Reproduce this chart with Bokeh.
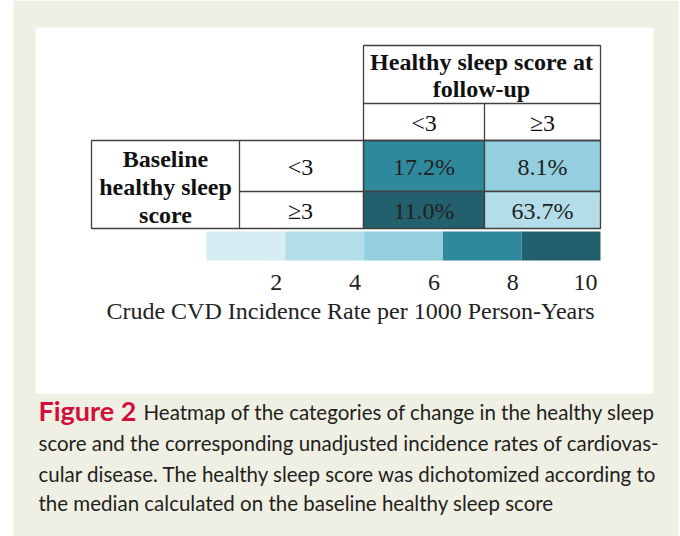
from bokeh.plotting import figure
from bokeh.models import Range1d, ColumnDataSource, LinearColorMapper
from bokeh.transform import transform
from bokeh.core.properties import value
from bokeh.embed import file_html
from bokeh.resources import INLINE

# ---------------- data ----------------
followup_header = ["Healthy sleep score at", "follow-up"]
baseline_header = ["Baseline", "healthy sleep", "score"]
followup_cats = ["<3", "≥3"]
baseline_cats = ["<3", "≥3"]
cell_baseline = ["<3", "<3", "≥3", "≥3"]
cell_followup = ["<3", "≥3", "<3", "≥3"]
cell_percent = [17.2, 8.1, 11.0, 63.7]
cell_rate = [7.1, 5.2, 8.6, 3.4]          # crude CVD incidence rate (estimated)
cbar_low, cbar_high = 0, 10
cbar_ticks = [2, 4, 6, 8, 10]
cbar_palette = ["#d5ecf2", "#b3dde9", "#93cfde", "#2f899d", "#23606e"]
axis_title = "Crude CVD Incidence Rate per 1000 Person-Years"
caption_label = "Figure 2"
caption_lines = [
    "Heatmap of the categories of change in the healthy sleep",
    "score and the corresponding unadjusted incidence rates of cardiovas-",
    "cular disease. The healthy sleep score was dichotomized according to",
    "the median calculated on the baseline healthy sleep score",
]

# ---------------- layout (picture pixels) ----------------
W, H = 680, 536
X0, Y0 = 0, 0
col_edges = {"<3": (363, 484), "≥3": (484, 600)}
row_edges = {"<3": (140, 191), "≥3": (191, 228)}
CB_LEFT, CB_RIGHT, CB_TOP, CB_BOT = 206, 600, 231, 260

SERIF = value("Liberation Serif")
SANS = value("Lato")
LINE = "#404040"
FS = "24px"

p = figure(width=W, height=H, output_backend="svg", toolbar_location=None,
           x_range=Range1d(X0, X0 + W), y_range=Range1d(Y0 + H, Y0),
           min_border=0, outline_line_color=None,
           background_fill_color="white", border_fill_color="white")
p.axis.visible = False
p.grid.visible = False

# colour-bar value range mapped onto the picture through an extra scale
k = (CB_RIGHT - CB_LEFT) / (cbar_high - cbar_low)
p.extra_x_ranges = {"cb": Range1d(cbar_low - (CB_LEFT - X0) / k,
                                  cbar_high + (X0 + W - CB_RIGHT) / k)}

# backgrounds
p.quad(left=13, right=678, top=0, bottom=540, fill_color="#efefe3", line_color=None)
p.quad(left=35, right=653, top=27, bottom=393, fill_color="white", line_color=None)

mapper = LinearColorMapper(palette=cbar_palette, low=cbar_low, high=cbar_high)

# heatmap cells
src = ColumnDataSource(dict(
    left=[col_edges[c][0] for c in cell_followup],
    right=[col_edges[c][1] for c in cell_followup],
    top=[row_edges[r][0] for r in cell_baseline],
    bottom=[row_edges[r][1] for r in cell_baseline],
    rate=cell_rate,
    label=[f"{v:.1f}%" for v in cell_percent],
))
p.quad(left="left", right="right", top="top", bottom="bottom", source=src,
       fill_color=transform("rate", mapper), line_color=LINE, line_width=1.3)
src.data["xc"] = [(a + b) / 2 for a, b in zip(src.data["left"], src.data["right"])]
src.data["yc"] = [(a + b) / 2 + 1 for a, b in zip(src.data["top"], src.data["bottom"])]
p.text(x="xc", y="yc", text="label", source=src, text_align="center",
       text_baseline="middle", text_font=SERIF, text_font_size=FS,
       text_color="#222222")

# table borders
hx0, hx1 = col_edges["<3"][0], col_edges["≥3"][1]
p.quad(left=hx0, right=hx1, top=45, bottom=140, fill_color=None,
       line_color=LINE, line_width=1.3)
p.segment(x0=[hx0], y0=[103], x1=[hx1], y1=[103], line_color=LINE, line_width=1.3)
p.segment(x0=[484], y0=[103], x1=[484], y1=[140], line_color=LINE, line_width=1.3)
p.quad(left=91, right=hx0, top=140, bottom=228, fill_color=None,
       line_color=LINE, line_width=1.3)
p.segment(x0=[239], y0=[140], x1=[239], y1=[228], line_color=LINE, line_width=1.3)
p.segment(x0=[239], y0=[191], x1=[hx0], y1=[191], line_color=LINE, line_width=1.3)

# header texts
p.text(x=[481] * 2, y=[61, 88], text=followup_header, text_align="center",
       text_baseline="middle", text_font=SERIF, text_font_style="bold",
       text_font_size=FS, text_color="#111111")
p.text(x=[(col_edges[c][0] + col_edges[c][1]) / 2 for c in followup_cats],
       y=[122] * 2, text=followup_cats, text_align="center",
       text_baseline="middle", text_font=SERIF, text_font_size=FS,
       text_color="#111111")
p.text(x=[165] * 3, y=[158, 186, 214], text=baseline_header, text_align="center",
       text_baseline="middle", text_font=SERIF, text_font_style="bold",
       text_font_size=FS, text_color="#111111")
p.text(x=[300] * 2, y=[(row_edges[r][0] + row_edges[r][1]) / 2 + 1 for r in baseline_cats],
       text=baseline_cats, text_align="center", text_baseline="middle",
       text_font=SERIF, text_font_size=FS, text_color="#111111")

# colour bar
bins = [cbar_low + i * (cbar_high - cbar_low) / len(cbar_palette) for i in range(len(cbar_palette) + 1)]
cb_src = ColumnDataSource(dict(left=bins[:-1], right=bins[1:],
                               mid=[(a + b) / 2 for a, b in zip(bins[:-1], bins[1:])]))
p.quad(left="left", right="right", top=CB_TOP, bottom=CB_BOT, source=cb_src,
       x_range_name="cb", fill_color=transform("mid", mapper), line_color=None)
p.text(x=cbar_ticks, y=[282] * len(cbar_ticks), text=[str(t) for t in cbar_ticks],
       x_range_name="cb", x_offset=-3, text_align="right", text_baseline="middle",
       text_font=SERIF, text_font_size=FS, text_color="#222222")
p.text(x=[350], y=[310], text=[axis_title], text_align="center",
       text_baseline="middle", text_font=SERIF, text_font_size=FS,
       text_color="#222222")

# caption
p.text(x=[38], y=[410], text=[caption_label], text_baseline="middle",
       text_font=SANS, text_font_style="bold", text_font_size="27px",
       text_color="#d0103a")
p.text(x=[143] + [38] * 3, y=[411, 442, 473, 502], text=caption_lines,
       text_baseline="middle", text_font=SANS, text_font_size="20.5px",
       text_color="#231f20")

open("out.html", "w").write(file_html(p, INLINE))
